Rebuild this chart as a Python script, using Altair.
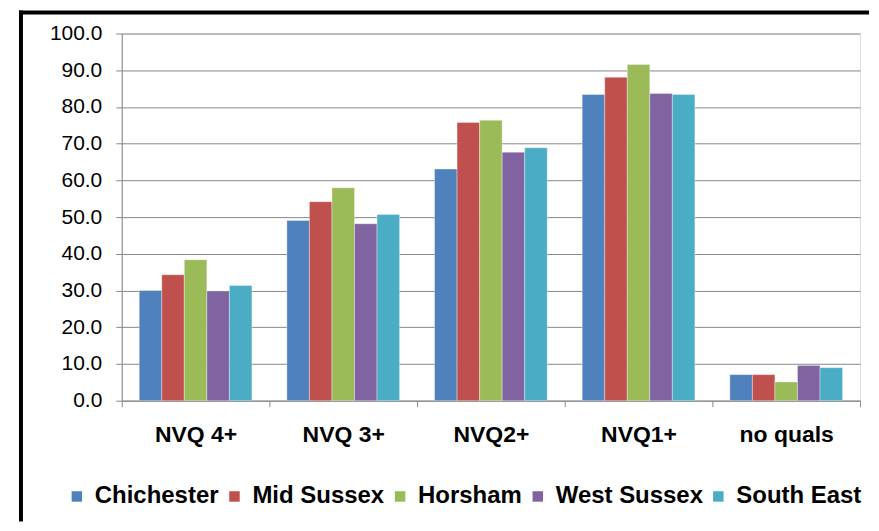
import altair as alt
import pandas as pd

categories = ["NVQ 4+", "NVQ 3+", "NVQ2+", "NVQ1+", "no quals"]
areas = ["Chichester", "Mid Sussex", "Horsham", "West Sussex", "South East"]
colors = ["#4F81BD", "#C0504D", "#9BBB59", "#8064A2", "#4BACC6"]

chichester = [30.0, 49.1, 63.1, 83.4, 7.1]
mid_sussex = [34.3, 54.2, 75.8, 88.1, 7.1]
horsham = [38.4, 58.0, 76.4, 91.6, 5.1]
west_sussex = [29.9, 48.2, 67.7, 83.7, 9.6]
south_east = [31.4, 50.7, 68.9, 83.4, 9.0]

series = [chichester, mid_sussex, horsham, west_sussex, south_east]
rows = []
for area, vals in zip(areas, series):
    for cat, v in zip(categories, vals):
        rows.append({"Qualification": cat, "Area": area, "Value": v})
df = pd.DataFrame(rows)

FONT = "Liberation Sans"

bars = alt.Chart(df).mark_bar(stroke="white", strokeWidth=0.6, strokeOpacity=0.6).encode(
    x=alt.X("Qualification:N", sort=categories,
            scale=alt.Scale(paddingInner=0, paddingOuter=0),
            axis=alt.Axis(title=None, labelAngle=0, labelFont=FONT, labelFontSize=23,
                          labelFontWeight="bold", labelColor="black", labelPadding=17,
                          tickBand="extent", tickSize=6, tickColor="#888888",
                          domainColor="#888888", grid=False)),
    xOffset=alt.XOffset("Area:N", sort=areas, scale=alt.Scale(paddingOuter=0.775, paddingInner=0)),
    y=alt.Y("Value:Q", scale=alt.Scale(domain=[0, 100]),
            axis=alt.Axis(title=None, values=list(range(0, 101, 10)), format=".1f",
                          labelFont=FONT, labelFontSize=21, labelColor="black",
                          labelPadding=14, tickSize=6, tickColor="#888888",
                          domainColor="#888888", gridColor="#888888", gridWidth=1)),
    color=alt.Color("Area:N", sort=areas, scale=alt.Scale(domain=areas, range=colors),
                    legend=alt.Legend(title=None, orient="none", legendX=-57, legendY=452,
                                      direction="horizontal", padding=0,
                                      symbolType="square", symbolSize=110, symbolStrokeWidth=0,
                                      labelFont=FONT, labelFontSize=24, labelFontWeight="bold",
                                      labelColor="black", columnPadding=3, labelOffset=6)),
)

one = pd.DataFrame({"a": [0]})
frame_left = alt.Chart(one).mark_rule(color="black", strokeWidth=4).encode(
    x=alt.value(-101), x2=alt.value(-101), y=alt.value(-23), y2=alt.value(489)
)
frame_top = alt.Chart(one).mark_rule(color="black", strokeWidth=4).encode(
    x=alt.value(-103), x2=alt.value(749), y=alt.value(-21), y2=alt.value(-21)
)

chart = alt.layer(bars, frame_left, frame_top).properties(
    width=740, height=368,
    padding={"left": 9, "top": 0, "right": 0, "bottom": 0},
).configure_view(stroke=None).configure(background="white")

chart.save("out.html", embed_options={"renderer": "svg", "actions": False})
